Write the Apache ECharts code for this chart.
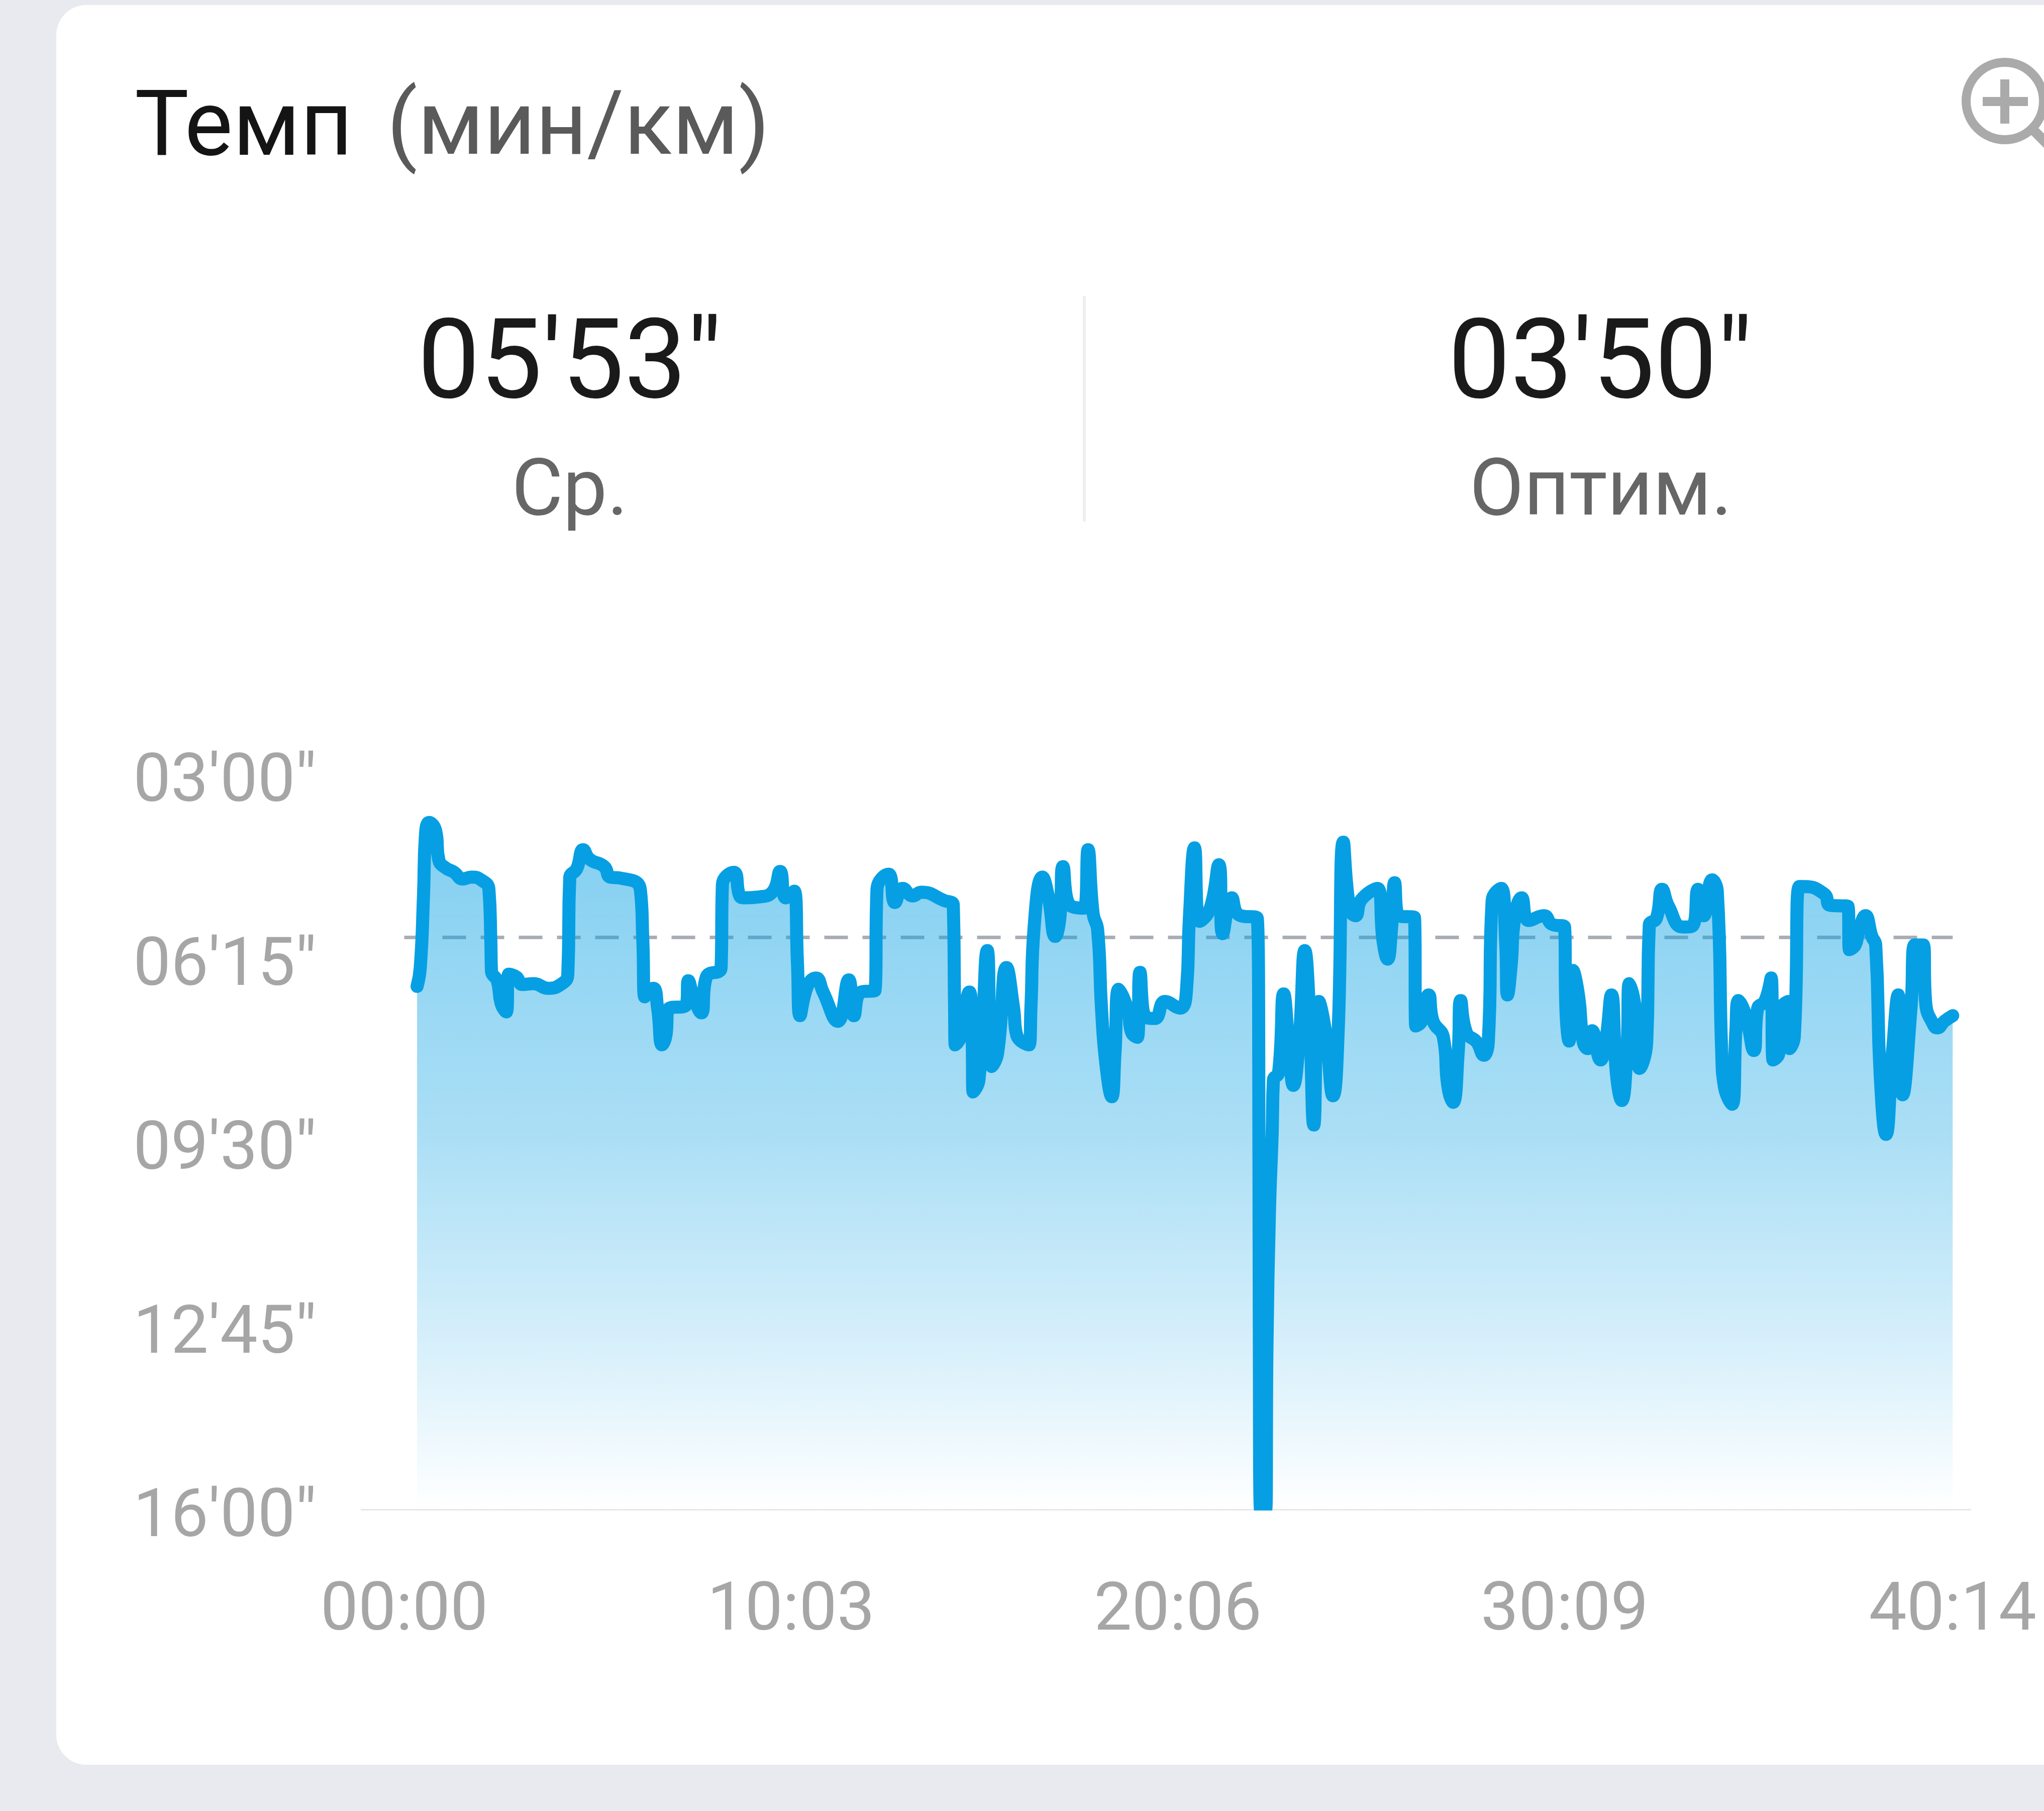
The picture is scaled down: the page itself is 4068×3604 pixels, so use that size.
<!DOCTYPE html>
<html><head><meta charset="utf-8">
<style>html,body{margin:0;padding:0;background:#e9eaef}#c{width:4068px;height:3604px}</style>
<script src="https://cdn.jsdelivr.net/npm/echarts@6/dist/echarts.min.js"></script>
</head><body><div id="c"></div>
<script>
const titleMain = 'Темп';
const titleUnit = '(мин/км)';
const avgLabel = 'Ср.';
const avgText = '05\'53"';
const bestLabel = 'Оптим.';
const bestText = '03\'50"';
const avgPace = 353;
const xTickValues = [0, 603, 1206, 1809, 2414];
const xTickLabels = ['00:00', '10:03', '20:06', '30:09', '40:14'];
const yTickValues = [180, 375, 570, 765, 960];
const yTickLabels = ['03\'00"', '06\'15"', '09\'30"', '12\'45"', '16\'00"'];
const elapsed = [20,25,30,33,39,49,54,64,78,91,105,120,132,135,136,145,151,159,163,175,184,202,224,246,255,258,269,279,289,312,321,336,368,372,375,388,395,402,408,411,440,443,451,463,471,494,496,514,523,530,554,575,586,595,608,613,617,629,642,653,
676,693,701,712,734,737,755,765,777,793,806,842,856,858,859,867,881,885,887,896,909,916,925,939,950,955,974,977,982,995,1004,1015,1022,1027,1038,1060,1066,1074,1081,1087,1094,1103,1108,1114,1128,1134,1143,1147,1157,1170,1186,1209,1220,1224,1232,1240,1256,1270,1276,1290,1301,1330,
1332,1333,1335,1343,1345,1349,1353,1355,1363,1371,1380,1386,1395,1404,1411,1418,1426,1436,1448,1456,1464,1474,1483,1492,1517,1526,1533,1539,1544,1550,1575,1577,1586,1597,1604,1620,1627,1635,1643,1647,1656,1672,1683,1690,1696,1710,1717,1720,1726,1730,1742,1753,1777,1789,1809,1811,1816,1822,1831,1838,1845,1852,1865,1873,1882,1890,1898,1906,1910,1919,1926,1937,
1941,1952,1961,1971,1993,2008,2017,2026,2039,2047,2054,2058,2070,2076,2080,2091,2104,2110,2121,2131,2134,2143,2147,2158,2160,2167,2175,2182,2214,2223,2251,2253,2262,2268,2278,2288,2294,2301,2310,2320,2329,2336,2349,2355,2368,2372,2385,2390,2401,2414];
const pace = [405,385,309,245,231,240,271,279,284,291,289,292,302,357,389,399,423,432,392,395,403,402,407,402,392,290,280,260,270,278,289,290,302,357,416,407,428,467,457,430,424,399,416,433,395,385,297,284,309,311,310,304,283,311,304,380,436,404,396,411,
442,398,436,411,409,302,286,316,301,309,305,314,319,428,467,459,411,452,517,504,367,490,476,385,428,457,467,428,342,289,309,352,333,278,319,322,260,328,345,428,488,522,476,408,430,454,459,390,438,439,421,428,404,333,258,336,323,276,349,311,329,333,
428,761,960,960,785,640,563,504,497,413,476,510,464,367,428,552,421,452,521,452,252,323,330,313,301,357,376,345,295,330,332,447,442,414,442,459,511,528,476,420,454,464,478,464,314,301,357,414,380,338,311,335,330,339,342,428,463,388,416,464,471,452,483,464,414,499,526,476,402,428,492,464,
340,333,302,320,342,341,302,330,292,304,476,511,530,452,420,435,473,428,421,396,483,476,428,421,471,459,299,299,307,319,320,366,361,345,330,352,361,499,562,476,414,520,428,361,361,423,447,449,442,436];
const paceSeries = elapsed.map((t, i) => [t, pace[i]]);

const FONT = 'Roboto';
const chart = echarts.init(document.getElementById('c'), null, {width: 4068, height: 3604});
chart.setOption({
  animation: false,
  backgroundColor: '#e9eaef',
  grid: {left: 719, right: 146, top: 1541, bottom: 600, containLabel: false},
  xAxis: {
    type: 'value', min: -67, max: 2442, position: 'bottom',
    axisLine: {show: true, onZero: false, lineStyle: {color: '#e8e8e8', width: 3}},
    axisTick: {show: false}, splitLine: {show: false},
    axisLabel: {
      customValues: xTickValues, margin: 138, color: '#a6a6a6', fontFamily: FONT, fontSize: 134,
      formatter: v => xTickLabels[xTickValues.indexOf(v)]
    }
  },
  yAxis: {
    type: 'value', inverse: true, min: 180, max: 960,
    axisLine: {show: false}, axisTick: {show: false}, splitLine: {show: false},
    axisLabel: {
      customValues: yTickValues, margin: 89, color: '#a6a6a6', fontFamily: FONT, fontSize: 133,
      verticalAlign: 'top', lineHeight: 40,
      formatter: v => yTickLabels[yTickValues.indexOf(v)]
    }
  },
  series: [
    {
      name: 'avg', type: 'line', z: 1, symbol: 'none', silent: true,
      data: [[xTickValues[0], avgPace], [xTickValues[4], avgPace]],
      lineStyle: {color: '#a9aeb6', width: 7, type: [47, 29]}
    },
    {
      name: 'pace', type: 'line', z: 2, symbol: 'none', smooth: 0.5, sampling: 'none',
      data: paceSeries,
      lineStyle: {color: '#069fe3', width: 26, cap: 'round', join: 'round'},
      areaStyle: {
        origin: 'end', opacity: 1,
        color: new echarts.graphic.LinearGradient(0, 0, 0, 1, [
          {offset: 0, color: 'rgba(6,159,227,0.5)'},
          {offset: 0.45, color: 'rgba(6,159,227,0.34)'},
          {offset: 0.75, color: 'rgba(6,159,227,0.17)'},
          {offset: 1, color: 'rgba(6,159,227,0)'}
        ])
      }
    }
  ],
  graphic: [
    {type: 'rect', z: -10, silent: true, shape: {x: 112, y: 10, width: 4100, height: 3502, r: 60}, style: {fill: '#ffffff'}},
    {type: 'rect', z: 50, silent: true, shape: {x: 2480, y: 3006, width: 70, height: 20}, style: {fill: '#ffffff'}},
    {type: 'text', left: 268, top: 172, style: {text: titleMain, font: '181px Roboto', fill: '#141414'}},
    {type: 'text', left: 770, top: 172, style: {text: titleUnit, font: '178px Roboto', fill: '#5a5a5a'}},
    {type: 'text', x: 1134, y: 736, style: {text: avgText, font: '221px Roboto', fill: '#1a1a1a', align: 'center', verticalAlign: 'middle'}},
    {type: 'text', x: 1134, y: 985, style: {text: avgLabel, font: '157px Roboto', fill: '#666666', align: 'center', verticalAlign: 'middle'}},
    {type: 'text', x: 3185, y: 736, style: {text: bestText, font: '221px Roboto', fill: '#1a1a1a', align: 'center', verticalAlign: 'middle'}},
    {type: 'text', x: 3186, y: 985, style: {text: bestLabel, font: '157px Roboto', fill: '#666666', align: 'center', verticalAlign: 'middle'}},
    {type: 'line', shape: {x1: 2158, y1: 589, x2: 2158, y2: 1038}, style: {stroke: '#eeeeee', lineWidth: 6}},
    {type: 'circle', shape: {cx: 3990, cy: 201, r: 77}, style: {fill: 'transparent', stroke: '#aaaaaa', lineWidth: 18}},
    {type: 'line', shape: {x1: 3946, y1: 202, x2: 4036, y2: 202}, style: {stroke: '#aaaaaa', lineWidth: 18}},
    {type: 'line', shape: {x1: 3990, y1: 158, x2: 3990, y2: 246}, style: {stroke: '#aaaaaa', lineWidth: 18}},
    {type: 'line', shape: {x1: 4045, y1: 257, x2: 4090, y2: 302}, style: {stroke: '#aaaaaa', lineWidth: 20}}
  ]
});
</script></body></html>
